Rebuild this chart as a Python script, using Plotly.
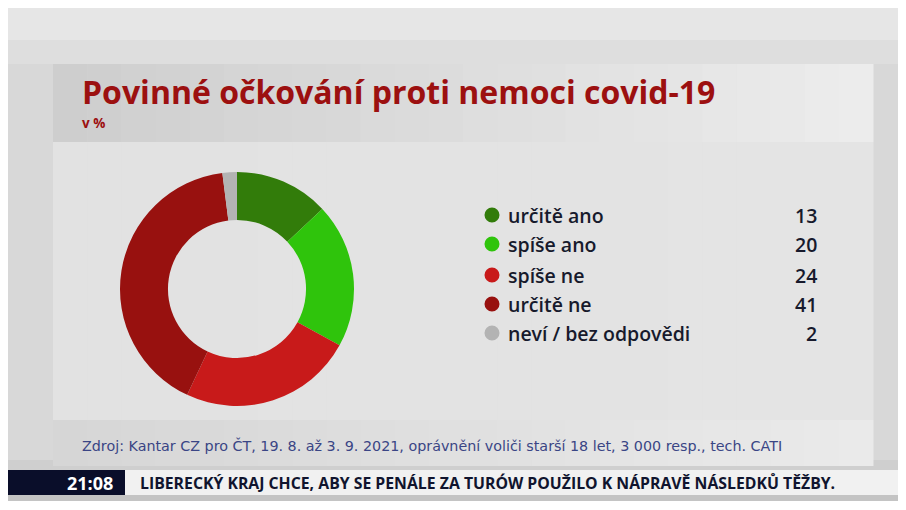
import plotly.graph_objects as go

W, H = 906, 510
OFF = 8  # the page body margin shifts the figure by 8px

categories = ["určitě ano", "spíše ano", "spíše ne", "určitě ne", "neví / bez odpovědi"]
values = [13, 20, 24, 41, 2]
colors = ["#327c0a", "#2fc40c", "#c81a1a", "#98110f", "#b3b3b3"]

title = "Povinné očkování proti nemoci covid-19"
subtitle = "v %"
source = "Zdroj: Kantar CZ pro ČT, 19. 8. až 3. 9. 2021, oprávnění voliči starší 18 let, 3 000 resp., tech. CATI"
ticker_time = "21:08"
ticker_text = "LIBERECKÝ KRAJ CHCE, ABY SE PENÁLE ZA TURÓW POUŽILO K NÁPRAVĚ NÁSLEDKŮ TĚŽBY."


def px(x):
    return (x - OFF) / W


def py(y):
    return 1 - (y - OFF) / H


fig = go.Figure()

fig.add_trace(go.Pie(
    labels=categories,
    values=values,
    marker=dict(colors=colors, line=dict(width=0)),
    hole=0.59,
    sort=False,
    direction="clockwise",
    rotation=0,
    textinfo="none",
    hoverinfo="label+value",
    showlegend=False,
    domain=dict(x=[px(120), px(354)], y=[py(406), py(172)]),
))

shapes = []


def rect(x0, y0, x1, y1, color, layer="below"):
    shapes.append(dict(type="rect", xref="paper", yref="paper",
                       x0=px(x0), x1=px(x1), y0=py(y1), y1=py(y0),
                       fillcolor=color, line=dict(width=0), layer=layer))


def lerp(c0, c1, t):
    return "rgb(%d,%d,%d)" % tuple(round(a + (b - a) * t) for a, b in zip(c0, c1))


# studio background
rect(0, 0, W + 20, H + 20, "#d8d8d8")
for y0, y1, c in [(8, 40, "#e6e6e6"), (40, 64, "#dedede"), (460, 470, "#cfcfcf"), (495, 501, "#c4c4c4"), (501, 530, "#ffffff")]:
    rect(0, y0, W + 20, y1, c)

# panel with horizontal gradient (left darker, right lighter)
n = 24
x_left, x_right = 53, 873
for i in range(n):
    xa = x_left + (x_right - x_left) * i / n
    xb = x_left + (x_right - x_left) * (i + 1) / n + 0.5
    t = i / (n - 1)
    rect(xa, 64, xb, 142, lerp((206, 206, 206), (236, 236, 236), t))
    rect(xa, 142, xb, 420, lerp((226, 226, 226), (228, 228, 228), t))
    rect(xa, 420, xb, 466, lerp((214, 214, 214), (234, 234, 234), t))

# ticker
rect(0, 470, 125, 495, "#0a0e2a")
rect(125, 470, W + 20, 495, "#f1f1f1")

annotations = []


def text(x, y, s, size, color, weight=400, anchor="left", family="Open Sans"):
    annotations.append(dict(x=px(x), y=py(y), xref="paper", yref="paper",
                            text=s, showarrow=False, xanchor=anchor, yanchor="middle",
                            font=dict(family=family, size=size, color=color, weight=weight)))


text(80, 92, title, 32, "#9c1010", 700)
text(80, 123.5, subtitle, 13.5, "#9c1010", 700)

row_y = [215, 244, 275, 304, 333]
for cat, val, col, y in zip(categories, values, colors, row_y):
    shapes.append(dict(type="circle", xref="paper", yref="paper",
                       x0=px(484.5), x1=px(499.5), y0=py(y + 7.5), y1=py(y - 7.5),
                       fillcolor=col, line=dict(width=0), layer="above"))
    text(506, y, cat, 19.5, "#171a2c", 600)
    text(819, y, str(val), 19.5, "#171a2c", 600, anchor="right")

text(80, 445, source, 14.3, "#3a4585", 400, family="DejaVu Sans")

text(115, 483, ticker_time, 18, "#ffffff", 700, anchor="right")
text(138, 483, ticker_text, 15.8, "#10142e", 700)

fig.update_layout(
    width=W, height=H,
    margin=dict(l=0, r=0, t=0, b=0),
    paper_bgcolor="#d8d8d8",
    plot_bgcolor="#d8d8d8",
    shapes=shapes,
    annotations=annotations,
)

fig.write_html("out.html", config={"displayModeBar": False})
